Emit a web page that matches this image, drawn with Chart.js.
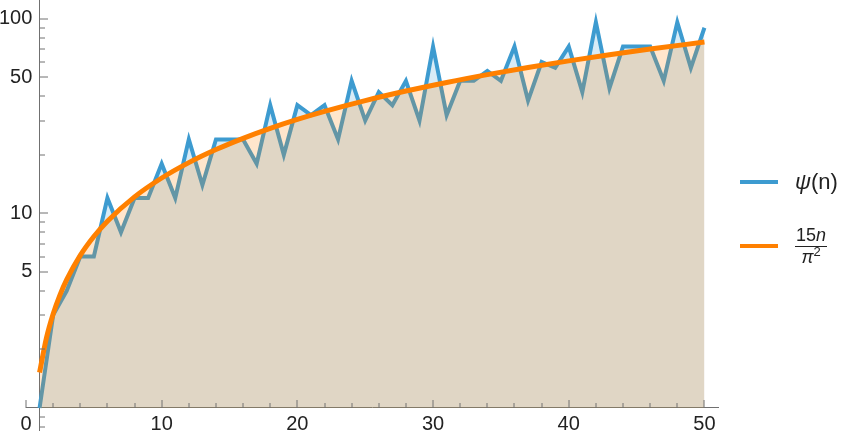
<!DOCTYPE html>
<html>
<head>
<meta charset="utf-8">
<script src="https://cdn.jsdelivr.net/npm/chart.js@4/dist/chart.umd.min.js"></script>
<style>
    body { margin: 0; background: #fff; font-family: "Liberation Sans", Arial, sans-serif; }
    #wrap { position: relative; width: 856px; height: 438px; }
    #legenda { position: absolute; left: 740px; top: 150px; color: #222; }
    .item { display: flex; align-items: center; height: 64px; }
    .traco { width: 38px; height: 4px; margin-right: 17px; }
    .frac { display: inline-flex; flex-direction: column; align-items: center; font-size: 18px; line-height: 17px; }
    .frac .num { border-bottom: 1.3px solid #222; padding: 0 1px 2px 1px; }
</style>
</head>
<body>
<div id="wrap">
    <canvas id="grafico" width="856" height="438"></canvas>
    <div id="legenda">
        <div class="item"><div class="traco" style="background:#3d9bd0"></div><span style="font-size:22px"><i>ψ</i>(n)</span></div>
        <div class="item"><div class="traco" style="background:#ff8000"></div><span class="frac"><span class="num">15<i>n</i></span><span style="padding-top:2px"><i>π</i><sup style="font-size:13px;line-height:0">2</sup></span></span></div>
    </div>
</div>
<script>
// dados
const nValores = [1,2,3,4,5,6,7,8,9,10,11,12,13,14,15,16,17,18,19,20,21,22,23,24,25,
                  26,27,28,29,30,31,32,33,34,35,36,37,38,39,40,41,42,43,44,45,46,47,48,49,50];
const psiValores = [1,3,4,6,6,12,8,12,12,18,12,24,14,24,24,24,18,36,20,36,32,36,24,48,30,
                    42,36,48,30,72,32,48,48,54,48,72,38,60,56,72,42,96,44,72,72,72,48,96,56,90];
const curvaX = [1,1.5,2,2.5,3,4,5,6,8,10,12,14,16,18,20,22,25,28,31,34,37,40,43,46,50];
const curvaY = [1.52,2.28,3.04,3.80,4.56,6.08,7.60,9.12,12.16,15.2,18.24,21.28,24.32,27.36,30.4,
                33.44,38.0,42.55,47.11,51.67,56.23,60.79,65.35,69.91,75.99];

const xRotulos = [0,10,20,30,40,50];
const xMenores = [2,4,6,8,12,14,16,18,22,24,26,28,32,34,36,38,42,44,46,48];
const yRotulos = [5,10,50,100];
const yMenores = [0.8,0.9,2,3,4,6,7,8,9,20,30,40,60,70,80,90];

const corAzul = '#3d9bd0';
const corLaranja = '#ff8000';
const corEixo = '#707070';

const marcasEixos = {
    id: 'marcasEixos',
    afterDatasetsDraw(chart) {
        const ctx = chart.ctx;
        const sx = chart.scales.x, sy = chart.scales.y;
        const x0 = Math.round(sx.getPixelForValue(1)), y0 = Math.round(sy.getPixelForValue(1));
        ctx.save();
        ctx.strokeStyle = corEixo;
        ctx.lineWidth = 1;
        ctx.beginPath();
        xRotulos.forEach(v => { const p = Math.round(sx.getPixelForValue(v)); ctx.moveTo(p, y0); ctx.lineTo(p, y0 - 8); });
        xMenores.forEach(v => { const p = Math.round(sx.getPixelForValue(v)); ctx.moveTo(p, y0); ctx.lineTo(p, y0 - 5); });
        yRotulos.forEach(v => { const p = Math.round(sy.getPixelForValue(v)); ctx.moveTo(x0, p); ctx.lineTo(x0 + 8, p); });
        yMenores.forEach(v => { const p = Math.round(sy.getPixelForValue(v)); ctx.moveTo(x0, p); ctx.lineTo(x0 + 5, p); });
        ctx.stroke();
        ctx.restore();
    }
};

const fonteEixo = { size: 20, family: 'Liberation Sans' };

new Chart(document.getElementById('grafico'), {
    type: 'line',
    data: {
        datasets: [
            {
                label: 'ψ(n)',
                data: nValores.map((n, i) => ({ x: n, y: psiValores[i] })),
                borderColor: corAzul,
                backgroundColor: 'rgba(61,155,208,0.2)',
                borderWidth: 4,
                tension: 0,
                pointRadius: 0,
                fill: { value: 1 },
                order: 1
            },
            {
                label: '15n/π²',
                data: curvaX.map((n, i) => ({ x: n, y: curvaY[i] })),
                borderColor: corLaranja,
                backgroundColor: 'rgba(255,128,0,0.2)',
                borderWidth: 5,
                cubicInterpolationMode: 'monotone',
                pointRadius: 0,
                fill: { value: 1 },
                order: 0
            }
        ]
    },
    options: {
        responsive: false,
        animation: false,
        layout: { padding: { left: 26, right: 138, top: 0, bottom: 8 } },
        plugins: {
            legend: { display: false },
            tooltip: { enabled: false },
            filler: { drawTime: 'beforeDatasetDraw' }
        },
        scales: {
            x: {
                type: 'linear',
                min: 0,
                max: 51,
                position: { y: 1 },
                grid: { display: false, drawTicks: false },
                border: { display: true, color: corEixo },
                afterBuildTicks: s => { s.ticks = xRotulos.map(v => ({ value: v })); },
                afterFit: s => { s.paddingLeft = 0; s.paddingRight = 0; },
                ticks: { color: '#222', font: fonteEixo, padding: 5, maxRotation: 0 }
            },
            y: {
                type: 'logarithmic',
                min: 0.77,
                max: 125,
                position: { x: 1 },
                grid: { display: false, drawTicks: false },
                border: { display: true, color: corEixo },
                afterBuildTicks: s => { s.ticks = yRotulos.map(v => ({ value: v })); },
                afterFit: s => { s.paddingTop = 0; s.paddingBottom = 0; },
                ticks: { color: '#222', font: fonteEixo, callback: v => String(v) + ' \u200A' }
            }
        }
    },
    plugins: [marcasEixos]
});
</script>
</body>
</html>
